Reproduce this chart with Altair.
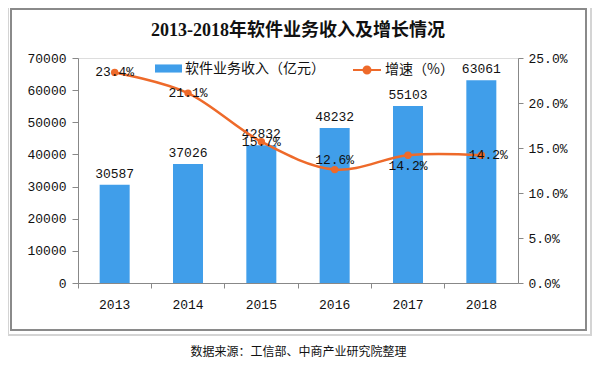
import altair as alt
import pandas as pd

years = ["2013", "2014", "2015", "2016", "2017", "2018"]
revenue = [30587, 37026, 42832, 48232, 55103, 63061]
growth = [23.4, 21.1, 15.7, 12.6, 14.2, 14.2]
bar_name = "软件业务收入（亿元）"
line_name = "增速（%）"

df = pd.DataFrame({"year": years, "revenue": revenue, "growth": growth,
                   "s1": bar_name, "s2": line_name})

BLUE = "#409EEA"
ORANGE = "#EE6A2A"
NUMF = "Liberation Mono"
CJK = "Noto Sans CJK SC"
AX = "#888888"

x_enc = alt.X("year:N", scale=alt.Scale(paddingInner=0, paddingOuter=0),
              axis=alt.Axis(title="数据来源：工信部、中商产业研究院整理", labelAngle=0,
                            bandPosition=0, tickSize=5, labelPadding=10,
                            labelFont=NUMF, labelFontSize=13, labelColor="#111",
                            titleFont=CJK, titleFontSize=12, titleFontWeight="normal",
                            titleColor="#111", titlePadding=35,
                            domainColor=AX, tickColor=AX))

base = alt.Chart(df)

frame_outer = base.mark_rect(fill=None, stroke="#d4d4d4", strokeWidth=1.5).encode(
    x=alt.value(-70), x2=alt.value(513), y=alt.value(-60), y2=alt.value(277))
frame_inner = base.mark_rect(fill=None, stroke="#8a8a8a", strokeWidth=1.5).encode(
    x=alt.value(-67), x2=alt.value(508), y=alt.value(-49), y2=alt.value(272))

y_left = alt.Y("revenue:Q", scale=alt.Scale(domain=[0, 70000]),
               axis=alt.Axis(title=None, values=list(range(0, 70001, 10000)), format="d",
                             grid=False, tickSize=6, labelPadding=6,
                             labelFont=NUMF, labelFontSize=13, labelColor="#111",
                             domainColor=AX, tickColor=AX))

bars = base.mark_bar(size=30).encode(
    x=x_enc, y=y_left,
    fill=alt.Fill("s1:N", scale=alt.Scale(domain=[bar_name], range=[BLUE]),
                  legend=alt.Legend(title=None, orient="none", legendX=77, legendY=-3,
                                    padding=0, symbolType="M-1,-0.3H1V0.3H-1Z",
                                    symbolSize=729, symbolStrokeWidth=0,
                                    labelFont=CJK, labelFontSize=14, labelColor="#111",
                                    labelOffset=3)))
bar_text = base.mark_text(baseline="bottom", dy=-4, font=NUMF, fontSize=13,
                          color="#111").encode(x=x_enc, y=y_left, text="revenue:Q")

y_right = alt.Y("growth:Q", scale=alt.Scale(domain=[0, 25]),
                axis=alt.Axis(title=None, orient="right", values=[0, 5, 10, 15, 20, 25],
                              labelExpr="format(datum.value, '.1f') + '%'",
                              grid=False, tickSize=5, labelPadding=5,
                              labelFont=NUMF, labelFontSize=13, labelColor="#111",
                              domainColor=AX, tickColor=AX))

line = base.mark_line(interpolate="cardinal", strokeWidth=2.5).encode(
    x=x_enc, y=y_right,
    stroke=alt.Stroke("s2:N", scale=alt.Scale(domain=[line_name], range=[ORANGE]),
                      legend=alt.Legend(title=None, orient="none", legendX=274, legendY=-3,
                                        padding=0,
                                        symbolType="M-1,0H1M0.25,0A0.25,0.25,0,1,1,-0.25,0A0.25,0.25,0,1,1,0.25,0",
                                        symbolSize=784, symbolStrokeWidth=2,
                                        symbolFillColor=ORANGE,
                                        labelFont=CJK, labelFontSize=14, labelColor="#111",
                                        labelOffset=3)))
pts = base.mark_circle(size=55, color=ORANGE, opacity=1).encode(x=x_enc, y=y_right)

def gtext(flt, dx=0, dy=0):
    return base.transform_filter(flt).mark_text(
        baseline="middle", dx=dx, dy=dy, font=NUMF, fontSize=13, color="#111").encode(
        x=x_enc, y=y_right, text=alt.Text("label:N")).transform_calculate(
        label="format(datum.growth, '.1f') + '%'")

t_main = gtext("datum.year <= '2015'")
t_16 = gtext("datum.year == '2016'", dy=-10)
t_17 = gtext("datum.year == '2017'", dy=11)
t_18 = gtext("datum.year == '2018'", dx=7)

left = alt.layer(frame_outer, frame_inner, bars, bar_text)
right = alt.layer(line, pts, t_main, t_16, t_17, t_18)

chart = alt.layer(left, right).resolve_scale(y="independent").properties(
    width=440, height=225,
    autosize=alt.AutoSizeParams(type="none"),
    padding={"left": 70, "top": 50, "right": 78, "bottom": 75},
    title=alt.TitleParams("2013-2018年软件业务收入及增长情况", anchor="middle",
                          font="Liberation Serif, Noto Sans CJK SC", fontSize=18,
                          fontWeight="bold", color="#111", offset=-43),
).configure_view(stroke=None).configure(background="white")

chart.save("out.html", embed_options={"renderer": "svg", "actions": False})
